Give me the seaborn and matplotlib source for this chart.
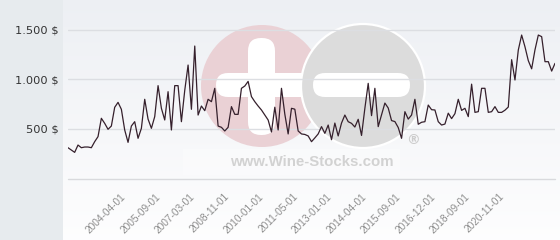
import numpy as np
import pandas as pd
import matplotlib
matplotlib.use("Agg")
import matplotlib.pyplot as plt
import seaborn as sns
from matplotlib.patches import Circle, FancyBboxPatch, Rectangle

# ---------------- data ----------------
prices = [311, 288, 264, 338, 311, 318, 318, 311, 372, 423,
          608, 557, 497, 530, 719, 769, 699, 490, 365, 530,
          574, 406, 507, 800, 600, 507, 625, 938, 709, 591,
          877, 490, 938, 938, 574, 890, 1146, 699, 1338, 641,
          732, 685, 800, 776, 911, 530, 517, 480, 517, 726,
          648, 648, 911, 934, 981, 827, 776, 732, 692, 641,
          591, 470, 720, 490, 911, 650, 450, 709, 700, 480,
          450, 445, 430, 372, 410, 450, 524, 456, 540, 392,
          560, 430, 560, 641, 574, 557, 520, 598, 435, 709,
          961, 635, 911, 524, 641, 762, 712, 585, 575, 515,
          406, 675, 600, 641, 800, 548, 568, 574, 742, 695,
          692, 574, 540, 550, 660, 605, 655, 800, 688, 709,
          625, 953, 668, 675, 911, 911, 668, 675, 726, 668,
          668, 690, 722, 1200, 995, 1298, 1449, 1330, 1190, 1108,
          1300, 1449, 1433, 1180, 1180, 1085, 1163]
tick_labels = ["2004-04-01", "2005-09-01", "2007-03-01", "2008-11-01",
               "2010-01-01", "2011-05-01", "2013-01-01", "2014-04-01",
               "2015-09-01", "2016-12-01", "2018-09-01", "2020-11-01"]
y_ticks = [500, 1000, 1500]

df = pd.DataFrame({"idx": np.arange(len(prices)), "price": prices})

# ---------------- figure ----------------
sns.set_style("white")
plt.rcParams["font.family"] = ["DejaVu Sans"]

W, H = 560, 240
fig = plt.figure(figsize=(W / 100, H / 100), dpi=100)
fig.patch.set_facecolor("#e7ebee")

# background panel with gradient + watermark (pixel coordinates)
bg = fig.add_axes([63 / W, 0, (W - 63) / W, 1], zorder=0)
grad = np.linspace(0, 1, 256)[:, None, None]
top = np.array([0.930, 0.939, 0.955])
bottom = np.array([0.995, 0.995, 0.997])
img = top + (bottom - top) * grad
bg.imshow(img, aspect="auto", extent=(63, W, H, 0), interpolation="bilinear")
bg.set_xlim(63, W)
bg.set_ylim(H, 0)
bg.axis("off")

bg.add_patch(Circle((262, 86), 61, facecolor="#ead1d5", lw=0))
bg.add_patch(FancyBboxPatch((248, 38), 27, 97, boxstyle="round,pad=0,rounding_size=13",
                            facecolor="white", lw=0))
bg.add_patch(FancyBboxPatch((216, 73), 110, 24, boxstyle="round,pad=0,rounding_size=12",
                            facecolor="white", lw=0))
bg.add_patch(Circle((363, 86), 62, facecolor="#dcdcdc", edgecolor="white", lw=1.6))
bg.add_patch(FancyBboxPatch((313, 73), 97, 24, boxstyle="round,pad=0,rounding_size=12",
                            facecolor="white", lw=0))
bg.text(413, 140, "®", color="#cccccc", fontsize=10, fontweight="bold",
        ha="center", va="center")
bg.add_patch(Rectangle((183, 149), 217, 26, facecolor="white", alpha=0.3, lw=0))
bg.text(312, 162, "www.Wine-Stocks.com", color="#d2d2d2", fontsize=10.8,
        fontweight="bold", family="Liberation Sans", ha="center", va="center")

# main axes
ax = fig.add_axes([68 / W, (H - 178.5) / H, (555 - 68) / W, 178.5 / H], zorder=2)
ax.patch.set_alpha(0)
sns.lineplot(data=df, x="idx", y="price", ax=ax, color="#35202c", linewidth=0.9,
             zorder=3)
ax.set_xlim(0, len(prices) - 1)
ax.set_ylim(0, 1803)

ax.set_yticks(y_ticks)
ax.set_yticklabels([f"{v:,} $".replace(",", ".") for v in y_ticks],
                   color="#333333", fontsize=8.2)
ax.grid(axis="y", color="#dcdee2", linewidth=1, zorder=1)
ax.grid(axis="x", visible=False)
ax.axhline(0, color="#d9dadd", linewidth=1, clip_on=False, zorder=1)

tick_pos = 16.8 + 10.31 * np.arange(len(tick_labels))
ax.set_xticks(tick_pos)
ax.set_xticklabels(tick_labels, rotation=45, ha="right", va="center",
                   rotation_mode="anchor", color="#8e8e8e", fontsize=7.3,
                   family="Liberation Sans")
ax.tick_params(axis="both", length=0)
ax.tick_params(axis="y", pad=6.5)
ax.tick_params(axis="x", pad=12)
ax.set_xlabel("")
ax.set_ylabel("")
for s in ax.spines.values():
    s.set_visible(False)

fig.savefig("out.png", dpi=100, facecolor=fig.get_facecolor())
